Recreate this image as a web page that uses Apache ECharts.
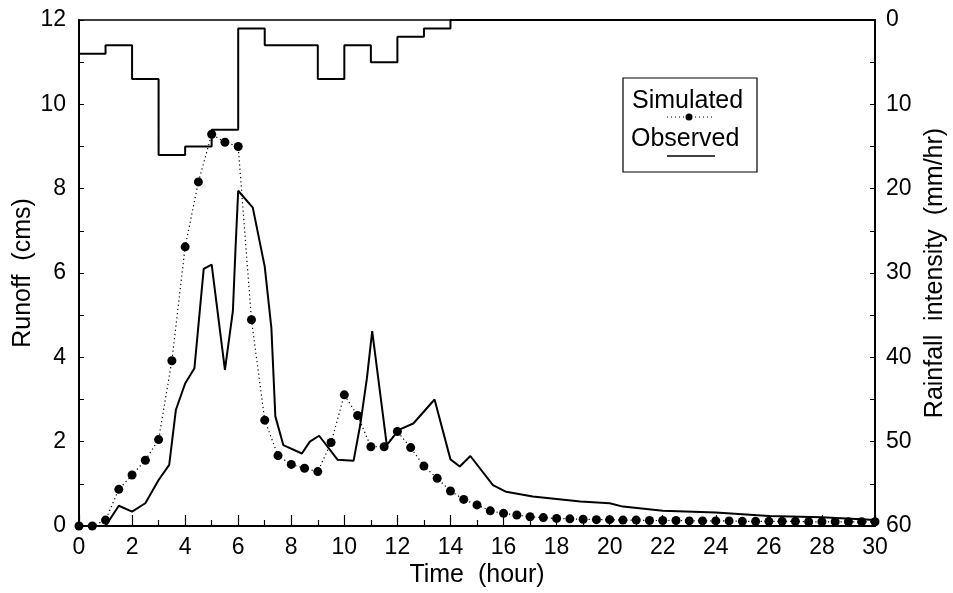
<!DOCTYPE html>
<html><head><meta charset="utf-8">
<script src="https://cdn.jsdelivr.net/npm/echarts@6/dist/echarts.min.js"></script>
<style>html,body{margin:0;padding:0;background:#fff}#c{width:953px;height:593px}</style>
</head><body><div id="c"></div>
<script>
// Rainfall intensity (mm/hr), hourly blocks starting at each hour
const rainHours = [0,1,2,3,4,5,6,7,8,9,10,11,12,13,14,30];
const rainValues = [4,3,7,16,15,13,1,3,3,7,3,5,2,1,0,0];

// Observed runoff (cms)
const obsTime = [0,1.0,1.5,2.0,2.5,3.0,3.4,3.65,4.0,4.35,4.7,5.0,5.5,5.8,5.9,6.0,6.55,7.0,7.25,7.4,7.7,8.4,8.7,9.05,9.75,10.35,10.6,10.85,11.05,11.6,12.05,12.6,13.4,14.0,14.35,14.75,15.6,16.1,17.1,18.9,20.0,20.5,22,24,26,28,30];
const obsValues = [0,0,0.48,0.34,0.54,1.09,1.45,2.75,3.38,3.74,6.1,6.2,3.7,5.1,6.6,7.95,7.55,6.15,4.7,2.6,1.92,1.72,2.0,2.14,1.57,1.55,2.4,3.5,4.62,1.92,2.28,2.43,3.0,1.58,1.41,1.66,0.97,0.81,0.7,0.58,0.54,0.46,0.36,0.32,0.24,0.21,0.14];

// Simulated runoff (cms), every half hour
const simTime = [0,0.5,1,1.5,2,2.5,3,3.5,4,4.5,5,5.5,6,6.5,7,7.5,8,8.5,9,9.5,10,10.5,11,11.5,12,12.5,13,13.5,14,14.5,15,15.5,16,16.5,17,17.5,18,18.5,19,19.5,20,20.5,21,21.5,22,22.5,23,23.5,24,24.5,25,25.5,26,26.5,27,27.5,28,28.5,29,29.5,30];
const simValues = [0,0,0.14,0.87,1.21,1.56,2.05,3.92,6.62,8.16,9.29,9.10,9.0,4.89,2.51,1.67,1.46,1.37,1.29,1.98,3.11,2.62,1.88,1.88,2.24,1.86,1.42,1.13,0.83,0.63,0.50,0.36,0.30,0.26,0.22,0.20,0.18,0.17,0.16,0.15,0.15,0.14,0.14,0.13,0.13,0.13,0.12,0.12,0.12,0.12,0.11,0.11,0.11,0.11,0.11,0.10,0.10,0.10,0.10,0.10,0.10];

const FONT = '"Liberation Sans", Arial, sans-serif';
const zip = (a, b) => a.map((v, i) => [v, b[i]]);

const chart = echarts.init(document.getElementById('c'));
chart.setOption({
  animation: false,
  backgroundColor: '#fff',
  grid: { left: 79, right: 78, top: 20, bottom: 67, show: true, borderColor: '#000', borderWidth: 1.5, containLabel: false, outerBoundsMode: 'none' },
  xAxis: {
    type: 'value', min: 0, max: 30, interval: 2,
    name: 'Time  (hour)', nameLocation: 'middle', nameGap: 37, nameMoveOverlap: false,
    nameTextStyle: { fontFamily: FONT, fontSize: 25, color: '#000' },
    axisLine: { lineStyle: { color: '#000', width: 2 } },
    axisTick: { inside: true, length: 11, lineStyle: { color: '#000', width: 1.2 } },
    minorTick: { show: true, splitNumber: 2, length: 6, lineStyle: { color: '#000', width: 1.2 } },
    axisLabel: { fontFamily: FONT, fontSize: 23, color: '#000', margin: 10 },
    splitLine: { show: false }
  },
  yAxis: [{
    type: 'value', min: 0, max: 12, interval: 2,
    name: 'Runoff  (cms)', nameLocation: 'middle', nameGap: 43, nameMoveOverlap: false,
    nameTextStyle: { fontFamily: FONT, fontSize: 25, color: '#000' },
    axisLine: { show: true, lineStyle: { color: '#000', width: 2 } },
    axisTick: { inside: true, length: 5, lineStyle: { color: '#000' } },
    minorTick: { show: true, splitNumber: 2, length: 5, lineStyle: { color: '#000' } },
    axisLabel: { fontFamily: FONT, fontSize: 23, color: '#000', margin: 13 },
    splitLine: { show: false }
  }, {
    type: 'value', min: 0, max: 60, interval: 10, inverse: true, position: 'right',
    name: 'Rainfall  intensity  (mm/hr)', nameLocation: 'middle', nameGap: 48, nameRotate: 90, nameMoveOverlap: false,
    nameTextStyle: { fontFamily: FONT, fontSize: 25, color: '#000' },
    axisLine: { show: true, lineStyle: { color: '#000', width: 2 } },
    axisTick: { inside: true, length: 5, lineStyle: { color: '#000' } },
    minorTick: { show: true, splitNumber: 2, length: 5, lineStyle: { color: '#000' } },
    axisLabel: { fontFamily: FONT, fontSize: 23, color: '#000', margin: 11 },
    splitLine: { show: false }
  }],
  series: [{
    name: 'Rainfall', type: 'line', yAxisIndex: 1, step: 'end',
    data: zip(rainHours, rainValues), symbol: 'none',
    lineStyle: { color: '#000', width: 2 }, z: 2
  }, {
    name: 'Observed', type: 'line', data: zip(obsTime, obsValues), symbol: 'none',
    lineStyle: { color: '#000', width: 2 }, z: 3
  }, {
    name: 'Simulated', type: 'line', data: zip(simTime, simValues),
    symbol: 'circle', symbolSize: 9, itemStyle: { color: '#000' },
    lineStyle: { color: '#000', width: 1.2, type: [1.2, 3] }, z: 4
  }],
  graphic: [
    { type: 'rect', shape: { x: 623, y: 78, width: 134, height: 94 }, style: { fill: '#fff', stroke: '#000', lineWidth: 1.2 }, z: 10 },
    { type: 'text', left: 632, top: 89, style: { text: 'Simulated', font: '25px ' + FONT, fill: '#000' }, z: 11 },
    { type: 'line', shape: { x1: 667, y1: 117, x2: 713, y2: 117 }, style: { stroke: '#000', lineWidth: 1, lineDash: [1, 3] }, z: 11 },
    { type: 'circle', shape: { cx: 689, cy: 117, r: 3.5 }, style: { fill: '#000' }, z: 11 },
    { type: 'text', left: 631, top: 127, style: { text: 'Observed', font: '25px ' + FONT, fill: '#000' }, z: 11 },
    { type: 'line', shape: { x1: 667, y1: 156, x2: 715, y2: 156 }, style: { stroke: '#000', lineWidth: 1.6 }, z: 11 }
  ]
});
</script></body></html>
